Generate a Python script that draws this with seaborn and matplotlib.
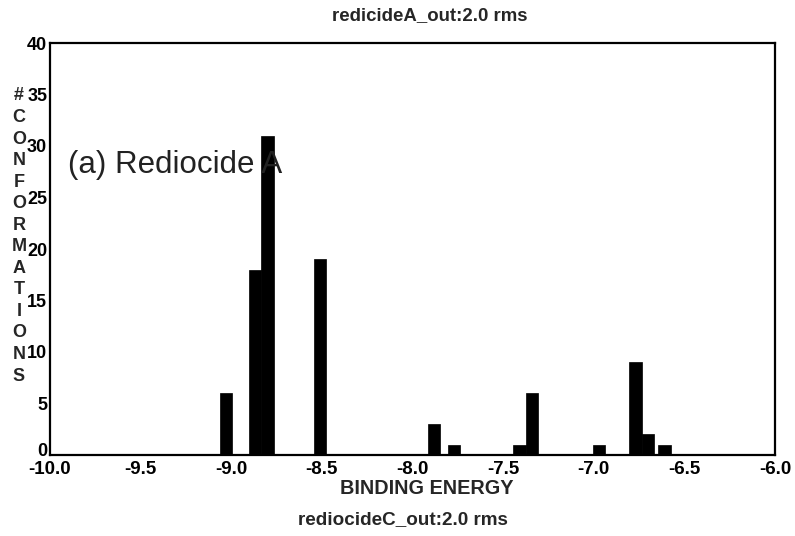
import matplotlib
matplotlib.use("Agg")
import matplotlib.pyplot as plt
import matplotlib.transforms as mtransforms
import seaborn as sns
import pandas as pd

# Data
energy = [-9.03, -8.87, -8.80, -8.51, -7.88, -7.77, -7.41, -7.34, -6.97, -6.77, -6.70, -6.61]
counts = [6, 18, 31, 19, 3, 1, 1, 6, 1, 9, 2, 1]
x_ticks = [-10.0, -9.5, -9.0, -8.5, -8.0, -7.5, -7.0, -6.5, -6.0]
y_ticks = [0, 5, 10, 15, 20, 25, 30, 35, 40]
top_title = "redicideA_out:2.0 rms"
bottom_title = "rediocideC_out:2.0 rms"
x_label = "BINDING ENERGY"
y_label = "#CONFORMATIONS"
panel_label = "(a) Rediocide A"

sns.set_theme(style="white")
plt.rcParams['font.family'] = ['Liberation Sans', 'DejaVu Sans']

df = pd.DataFrame({"energy": energy, "count": counts})

fig = plt.figure(figsize=(7.95, 5.36), dpi=100)
ax = fig.add_axes([50/795, 1-455/536, 725/795, 412/536])

sns.barplot(data=df, x="energy", y="count", native_scale=True, color="black",
            edgecolor="black", linewidth=0.5, width=0.97, saturation=1, ax=ax)

ax.set_xlim(-10.0, -6.0)
ax.set_ylim(0, 40)
ax.set_xticks(x_ticks)
ax.set_xticklabels([f"{t:.1f}" for t in x_ticks], fontsize=13.5, fontweight="bold")
ax.set_yticks(y_ticks)
ax.set_yticklabels([str(t) for t in y_ticks], fontsize=13, fontweight="bold")
ax.tick_params(axis="both", direction="in", length=3, width=1, pad=2, colors="black")
ax.tick_params(axis="x", pad=4)
ax.set_xlabel("")
ax.set_ylabel("")
for s in ax.spines.values():
    s.set_color("black")
    s.set_linewidth(1.6)

# raise the "0" label slightly, as in the reference
zero_lab = ax.get_yticklabels()[0]
zero_lab.set_transform(zero_lab.get_transform() +
                       mtransforms.ScaledTranslation(0, 6/100, fig.dpi_scale_trans))

ax.text(-9.9, 28.2, panel_label, fontsize=22.5, va="center", ha="left", color="#222222")

fig.text(430/795, 1-16/536, top_title, ha="center", va="center", fontsize=13.4, fontweight="bold")
fig.text(427/795, 1-488/536, x_label, ha="center", va="center", fontsize=14.3, fontweight="bold")
fig.text(403/795, 1-520/536, bottom_title, ha="center", va="center", fontsize=13.6, fontweight="bold")
fig.text(19/795, 1-236/536, "\n".join(y_label), ha="center", va="center", fontsize=13,
         fontweight="bold", linespacing=1.35)

fig.savefig("out.png", dpi=100, facecolor="white")
